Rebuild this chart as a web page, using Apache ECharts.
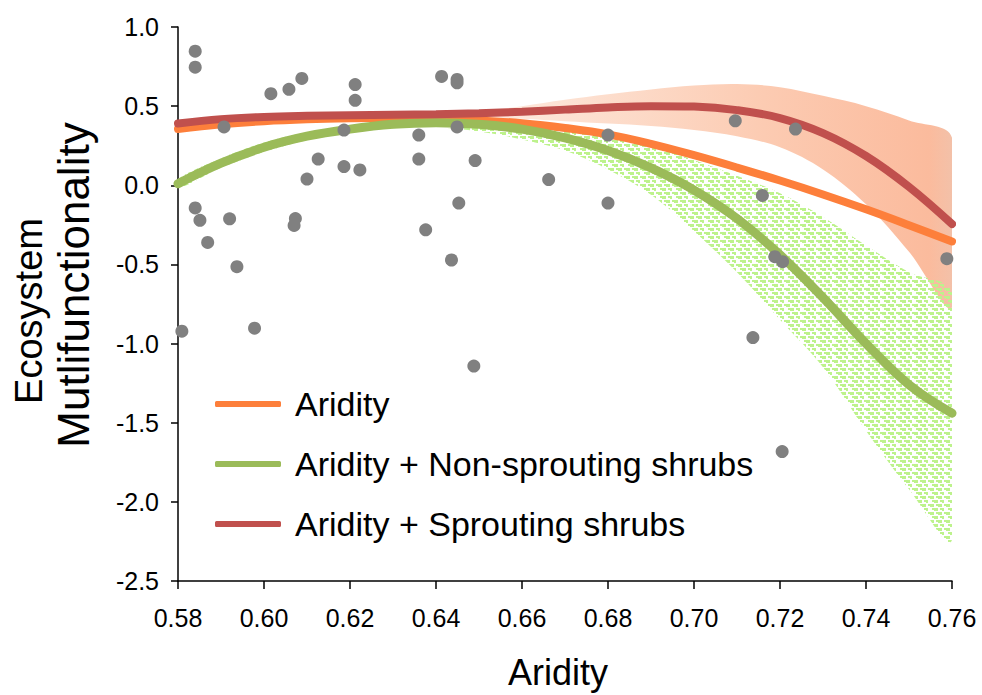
<!DOCTYPE html>
<html><head><meta charset="utf-8">
<script src="https://cdn.jsdelivr.net/npm/echarts@6/dist/echarts.min.js"></script>
<style>html,body{margin:0;padding:0;background:#fff}#c{width:982px;height:695px}</style>
</head><body><div id="c"></div>
<script>
// Aridity sample grid for the fitted curves
const xs = [0.58,0.59,0.60,0.61,0.62,0.63,0.64,0.65,0.66,0.67,0.68,0.69,0.70,0.71,0.72,0.73,0.74,0.75,0.76];
// Fitted curves
const aridity      = [0.355,0.385,0.405,0.417,0.423,0.425,0.42,0.41,0.392,0.362,0.322,0.262,0.19,0.112,0.03,-0.058,-0.152,-0.252,-0.355];
const nonSprouting = [0.01,0.14,0.24,0.31,0.355,0.385,0.395,0.385,0.355,0.30,0.22,0.11,-0.03,-0.21,-0.44,-0.71,-1.00,-1.26,-1.44];
const sprouting    = [0.39,0.418,0.432,0.439,0.443,0.446,0.449,0.455,0.465,0.478,0.492,0.500,0.497,0.475,0.425,0.33,0.185,-0.01,-0.245];
// Confidence bands
const sproutHi = [0.41,0.43,0.445,0.45,0.452,0.455,0.46,0.47,0.50,0.54,0.575,0.605,0.63,0.64,0.62,0.565,0.50,0.41,0.30];
const sproutLo = [0.37,0.41,0.425,0.43,0.434,0.435,0.434,0.43,0.42,0.405,0.39,0.375,0.35,0.31,0.24,0.10,-0.12,-0.42,-0.77];
const nonHi    = [0.04,0.17,0.27,0.335,0.375,0.40,0.415,0.415,0.40,0.37,0.32,0.25,0.16,0.06,-0.05,-0.20,-0.38,-0.55,-0.68];
const nonLo    = [-0.02,0.11,0.21,0.285,0.33,0.36,0.365,0.34,0.29,0.22,0.10,-0.06,-0.29,-0.55,-0.85,-1.15,-1.55,-1.92,-2.24];
// Observed sites
const siteX = [0.584,0.584,0.5907,0.6016,0.6058,0.6088,0.6212,0.6212,0.6186,0.6126,0.610,0.6186,0.6223,0.636,0.636,0.6413,0.6449,0.6449,0.6449,0.6491,0.6453,0.584,0.5851,0.592,0.6073,0.607,0.5869,0.5937,0.5809,0.5978,0.6376,0.6436,0.6488,0.6662,0.68,0.68,0.7096,0.7236,0.7159,0.7188,0.7206,0.7588,0.7137,0.7205];
const siteY = [0.847,0.746,0.369,0.579,0.606,0.675,0.636,0.537,0.349,0.166,0.039,0.118,0.097,0.317,0.166,0.688,0.669,0.647,0.369,0.156,-0.112,-0.143,-0.221,-0.212,-0.210,-0.254,-0.361,-0.514,-0.922,-0.903,-0.281,-0.472,-1.142,0.036,0.317,-0.112,0.407,0.355,-0.064,-0.451,-0.483,-0.464,-0.962,-1.682];
const xTicks = {min:0.58, max:0.76, step:0.02};
const yTicks = {min:-2.5, max:1.0, step:0.5};
const seriesNames = ['Aridity','Aridity + Non-sprouting shrubs','Aridity + Sprouting shrubs'];
const yTitle = ['Ecosystem','Mutlifunctionality'];

const FONT = '"Liberation Sans", Arial, Helvetica, sans-serif';
const chart = echarts.init(document.getElementById('c'), null, {renderer:'svg'});

function hatchTile(){
  const c = document.createElement('canvas'); c.width = 16; c.height = 16;
  const g = c.getContext('2d');
  g.fillStyle = '#bdf28c';
  for (let r = 0; r < 4; r++) {
    const y = r * 4, x = (r * 4) % 16;
    g.fillRect(x, y, 6, 2);
    g.fillRect((x + 8) % 16, y, 6, 2);
    g.fillRect((x + 2) % 16, y + 2, 4, 1);
    g.fillRect((x + 10) % 16, y + 2, 4, 1);
  }
  return c;
}
const hatch = {image: hatchTile(), repeat: 'repeat', imageWidth: 16, imageHeight: 16};
const redGrad = new echarts.graphic.LinearGradient(0, 0, 1, 0, [
  {offset: 0, color: 'rgba(253,238,226,0.6)'},
  {offset: 0.45, color: '#fde6d9'},
  {offset: 0.75, color: '#fccbb2'},
  {offset: 0.96, color: '#fbbb9d'},
  {offset: 1, color: '#f0c3ad'}
]);

function band(lo, hi, fill, z){
  return {
    type: 'custom', silent: true, z: z, data: [[xs[0], lo[0]]],
    renderItem: function(params, api){
      const pts = [];
      for (let i = 0; i < xs.length; i++) pts.push(api.coord([xs[i], hi[i]]));
      for (let i = xs.length - 1; i >= 0; i--) pts.push(api.coord([xs[i], lo[i]]));
      const cs = params.coordSys;
      return {type: 'polygon', shape: {points: pts, smooth: 0.35}, style: {fill: fill, stroke: null},
        clipPath: {type: 'rect', shape: {x: cs.x, y: cs.y, width: cs.width, height: cs.height}}};
    }
  };
}
function curve(name, ys, color, width, z){
  return {type: 'line', name: name, data: xs.map((x, i) => [x, ys[i]]), smooth: 0.4,
    symbol: 'none', z: z, lineStyle: {color: color, width: width, cap: 'round'}, itemStyle: {color: color}};
}

chart.setOption({
  animation: false,
  grid: {left: 178, right: 30, top: 27, bottom: 110},
  xAxis: {type: 'value', min: xTicks.min, max: xTicks.max, interval: xTicks.step,
    name: 'Aridity', nameLocation: 'middle', nameGap: 73,
    nameTextStyle: {fontSize: 36, fontFamily: FONT, color: '#000', padding: [0, 14, 0, 0]},
    axisLine: {onZero: false, lineStyle: {color: '#000', width: 1.5}},
    axisTick: {length: 8, lineStyle: {color: '#000', width: 1.5}},
    axisLabel: {fontSize: 25, fontFamily: FONT, color: '#000', margin: 24, formatter: v => v.toFixed(2)},
    splitLine: {show: false}},
  yAxis: {type: 'value', min: yTicks.min, max: yTicks.max, interval: yTicks.step,
    axisLine: {show: true, onZero: false, lineStyle: {color: '#000', width: 1.5}},
    axisTick: {show: true, length: 7, lineStyle: {color: '#000', width: 1.5}},
    axisLabel: {fontSize: 25, fontFamily: FONT, color: '#000', margin: 19, formatter: v => v.toFixed(1)},
    splitLine: {show: false}},
  legend: {orient: 'vertical', left: 210, top: 382, icon: 'roundRect', itemWidth: 66, itemHeight: 6, itemGap: 26,
    textStyle: {fontSize: 34, fontFamily: FONT, color: '#000', padding: [0, 0, 0, 9]},
    data: seriesNames},
  graphic: [
    {type: 'text', x: 29, y: 311, rotation: Math.PI / 2,
      style: {text: yTitle[0], font: '38px ' + FONT, fill: '#000', align: 'center', verticalAlign: 'middle'}},
    {type: 'text', x: 73, y: 285, rotation: Math.PI / 2,
      style: {text: yTitle[1], font: '44px ' + FONT, fill: '#000', align: 'center', verticalAlign: 'middle'}}
  ],
  series: [
    band(sproutLo, sproutHi, redGrad, 1),
    band(nonLo, nonHi, hatch, 2),
    curve(seriesNames[0], aridity, '#fd7f3b', 8, 3),
    curve(seriesNames[1], nonSprouting, '#9bbb59', 9, 4),
    curve(seriesNames[2], sprouting, '#c0504d', 8, 5),
    {type: 'scatter', name: 'Sites', data: siteX.map((x, i) => [x, siteY[i]]), symbolSize: 13, z: 6,
      itemStyle: {color: '#808080', opacity: 1}}
  ]
});
</script></body></html>
